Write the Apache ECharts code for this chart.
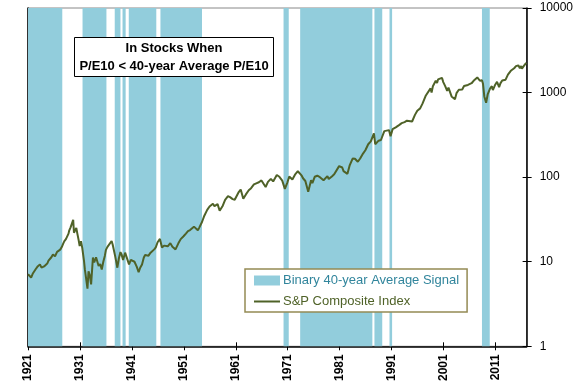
<!DOCTYPE html>
<html><head><meta charset="utf-8">
<script src="https://cdn.jsdelivr.net/npm/echarts@6/dist/echarts.min.js"></script>
<style>html,body{margin:0;padding:0;background:#fff}#c{width:576px;height:384px}</style>
</head><body><div id="c"></div>
<script>
// Tick labels
const xTicks = [1921,1931,1941,1951,1961,1971,1981,1991,2001,2011];
const yTicks = [1,10,100,1000,10000];
// Binary signal periods (in stocks) [start, end]
const signalBands = [
  [1921.0,1927.6],[1931.5,1936.1],[1937.7,1938.8],[1939.2,1939.8],[1940.4,1945.7],
  [1946.5,1954.5],[1970.2,1971.2],[1973.4,1987.3],[1987.7,1989.2],[1990.6,1991.1],[2008.4,2009.9]
];
// S&P Composite Index
const spDates = [
1921.0,1921.3,1921.6,1921.9,1922.2,1922.5,1922.8,1923.1,1923.3,1923.6,1923.8,1924.1,1924.4,1924.7,1924.95,
1925.2,1925.5,1925.8,1926.0,1926.2,1926.6,1926.9,1927.2,1927.5,1927.8,1928.0,1928.3,1928.5,1928.8,1928.95,
1929.2,1929.45,1929.7,1929.85,1930.0,1930.3,1930.5,1930.75,1930.95,1931.2,1931.45,1931.6,1931.8,1931.95,
1932.15,1932.45,1932.65,1932.9,1933.15,1933.5,1933.75,1934.1,1934.6,1934.9,1935.2,1935.5,1935.8,
1936.0,1936.3,1936.6,1937.1,1937.3,1937.6,1937.8,1937.95,1938.2,1938.5,1938.8,1939.0,1939.3,1939.7,
1940.0,1940.45,1940.8,1941.1,1941.5,1941.95,1942.3,1942.6,1942.95,1943.3,1943.55,1943.9,1944.2,1944.6,1944.95,
1945.3,1945.6,1945.95,1946.4,1946.8,1947.2,1947.5,1947.9,1948.4,1948.8,1949.4,1949.95,1950.4,1950.6,1950.95,
1951.4,1951.8,1952.2,1952.95,1953.3,1953.7,1954.0,1954.5,1954.95,1955.5,1955.8,1955.95,1956.6,1956.9,
1957.5,1957.9,1958.5,1958.95,1959.5,1959.9,1960.4,1960.8,1960.95,1961.5,1961.95,1962.45,1962.95,
1963.5,1963.95,1964.5,1964.95,1965.45,1965.55,1965.95,1966.1,1966.75,1967.2,1967.75,1968.2,1968.9,
1969.4,1969.95,1970.45,1970.95,1971.3,1971.9,1972.4,1972.95,1973.05,1973.7,1973.95,1974.4,1974.95,
1975.5,1975.75,1976.2,1976.7,1977.2,1977.9,1978.2,1978.65,1978.9,1979.5,1979.95,1980.2,1980.9,
1981.5,1981.75,1982.5,1982.95,1983.5,1983.95,1984.5,1984.95,1985.5,1985.95,1986.5,1986.75,1987.0,
1987.6,1987.85,1988.5,1988.95,1989.6,1989.95,1990.5,1990.8,1991.2,1991.8,1992.5,1992.95,1993.5,1993.95,
1994.1,1994.3,1994.95,1995.5,1995.95,1996.5,1996.95,1997.3,1997.6,1997.9,1998.5,1998.7,1998.95,
1999.5,1999.75,1999.95,2000.2,2000.7,2000.95,2001.3,2001.7,2001.95,2002.2,2002.55,2002.8,2003.2,
2003.5,2003.95,2004.3,2004.6,2004.95,2005.3,2005.7,2005.95,2006.4,2006.95,2007.5,2007.8,2008.0,
2008.4,2008.6,2008.85,2009.0,2009.2,2009.5,2009.95,2010.3,2010.5,2010.95,2011.3,2011.7,2011.95,
2012.3,2012.5,2012.95,2013.4,2013.95,2014.1,2014.6,2014.95,2015.4,2015.7,2015.95,2016.1,2016.5,
2016.75,2016.92,2017.0];
const spValues = [
7.1,6.9,6.5,7.2,7.5,8.2,8.7,8.9,9.3,8.5,8.3,8.8,8.7,9.5,10.3,
10.6,11.3,12.2,12.7,11.6,13.1,13.3,13.9,14.9,16.5,17.5,18.5,19.2,21.5,23.5,
25.5,26.5,31.3,22.0,22.8,25.1,21.5,18.0,15.3,17.5,14.5,14.8,10.0,8.1,
8.2,4.8,7.7,6.9,5.4,11.2,9.8,11.3,8.9,9.4,8.1,10.0,11.8,
13.8,15.0,15.5,17.6,16.0,16.0,11.5,10.3,8.5,11.0,13.0,12.3,10.5,12.8,
12.3,9.3,10.5,10.2,10.0,8.7,7.5,8.5,9.3,11.2,12.0,11.5,11.8,12.8,13.2,
14.0,14.8,17.0,18.6,14.7,15.5,14.8,15.2,16.6,15.0,14.0,16.5,18.5,17.6,20.0,
21.5,23.0,23.7,26.0,25.0,23.5,25.5,29.5,35.0,41.0,42.5,45.0,48.5,45.5,
48.0,40.0,46.0,54.0,59.5,58.0,55.0,54.0,56.5,65.5,71.5,55.5,62.5,
70.0,74.0,82.0,84.5,87.0,84.0,91.5,93.5,76.5,88.0,95.5,89.0,106.0,
101.0,91.0,72.7,87.0,102.0,94.0,107.0,117.5,118.0,104.0,97.0,90.0,67.0,
92.0,85.0,101.0,104.0,100.0,92.0,88.0,103.0,95.0,102.0,108.0,103.0,135.0,
130.0,118.0,109.5,139.0,166.0,165.0,152.0,166.0,190.0,208.0,245.0,235.0,265.0,
330.0,245.0,270.0,275.0,350.0,348.0,360.0,305.0,370.0,388.0,415.0,435.0,448.0,465.0,
472.0,450.0,455.0,545.0,610.0,650.0,740.0,760.0,925.0,955.0,1120.0,1000.0,1190.0,
1380.0,1300.0,1430.0,1400.0,1495.0,1330.0,1200.0,1050.0,1145.0,1130.0,900.0,860.0,835.0,
985.0,1080.0,1130.0,1090.0,1195.0,1170.0,1230.0,1260.0,1290.0,1410.0,1510.0,1540.0,1380.0,
1400.0,1270.0,900.0,870.0,757.0,950.0,1115.0,1190.0,1070.0,1240.0,1340.0,1160.0,1285.0,
1390.0,1330.0,1420.0,1630.0,1810.0,1780.0,1940.0,2055.0,2100.0,1940.0,2060.0,1920.0,2080.0,
2160.0,2245.0,2275.0];

const bandColor = '#92CDDC';
const lineColor = '#4F6228';
const chart = echarts.init(document.getElementById('c'), null, {renderer:'canvas'});
const xMin = 1921, xMax = 2017;
chart.setOption({
  animation:false,
  grid:{left:28, right:49, top:8, bottom:37, show:true, borderColor:'#888', borderWidth:1},
  title:{
    text:'In Stocks When\nP/E10 < 40-year Average P/E10',
    left:169, top:37, textAlign:'center',
    padding:[2,5,2,5], backgroundColor:'#fff', borderColor:'#000', borderWidth:1,
    textStyle:{fontFamily:'Liberation Sans', fontSize:13, fontWeight:'bold', color:'#000', lineHeight:18}
  },
  legend:{
    orient:'vertical', left:245, top:269,
    padding:[5,8,4,8], itemGap:8, itemWidth:26, itemHeight:10,
    backgroundColor:'#fff', borderColor:'#948A54', borderWidth:1.5,
    data:[
      {name:'Binary 40-year Average Signal', icon:'rect', textStyle:{color:'#31859C'}},
      {name:'S&P Composite Index', textStyle:{color:lineColor},
       itemStyle:{color:'rgba(0,0,0,0)', borderColor:'rgba(0,0,0,0)', borderWidth:0}}
    ],
    textStyle:{fontFamily:'Liberation Sans', fontSize:13, padding:[0,0,0,-2]}
  },
  xAxis:[
    {type:'value', min:xMin, max:xMax, position:'bottom',
     axisLine:{show:true, lineStyle:{color:'#000', width:1.5}},
     axisTick:{show:true, length:4, customValues:xTicks, lineStyle:{color:'#000'}},
     axisLabel:{customValues:xTicks, rotate:90, fontFamily:'Liberation Sans', fontSize:12, fontWeight:'bold', color:'#000', margin:8,
       formatter:v=>String(v)},
     splitLine:{show:false}},
    {type:'value', min:xMin, max:xMax, position:'bottom',
     axisLine:{show:false},
     axisTick:{show:true, inside:true, length:4, customValues:xTicks, lineStyle:{color:'#000'}},
     axisLabel:{show:false}, splitLine:{show:false}}
  ],
  yAxis:[
    {type:'log', logBase:10, min:1, max:10000, position:'right',
     axisLine:{show:true, lineStyle:{color:'#000', width:1.5}},
     axisTick:{show:true, length:5, lineStyle:{color:'#000'}},
     minorTick:{show:false},
     axisLabel:{fontFamily:'Liberation Sans', fontSize:12, color:'#000', margin:13,
       formatter:v=>String(Math.round(v))},
     splitLine:{show:false}},
    {type:'log', logBase:10, min:1, max:10000, position:'right',
     axisLine:{show:false},
     axisTick:{show:true, inside:true, length:4, lineStyle:{color:'#000'}},
     axisLabel:{show:false}, splitLine:{show:false}},
    {type:'log', logBase:10, min:1, max:10000, position:'left',
     axisLine:{show:true, lineStyle:{color:'#000', width:1.5}},
     axisTick:{show:false}, axisLabel:{show:false}, splitLine:{show:false}}
  ],
  series:[
    {name:'Binary 40-year Average Signal', type:'line', data:[], color:bandColor, z:1,
     xAxisIndex:0, yAxisIndex:0,
     markArea:{silent:true, itemStyle:{color:bandColor, opacity:1},
       data:signalBands.map(b=>[{xAxis:b[0]},{xAxis:b[1]}])}},
    {name:'S&P Composite Index', type:'line', symbol:'none', color:lineColor, z:3,
     xAxisIndex:0, yAxisIndex:0,
     lineStyle:{color:lineColor, width:2},
     data:spDates.map((d,i)=>[d, spValues[i]])}
  ]
});
</script></body></html>
